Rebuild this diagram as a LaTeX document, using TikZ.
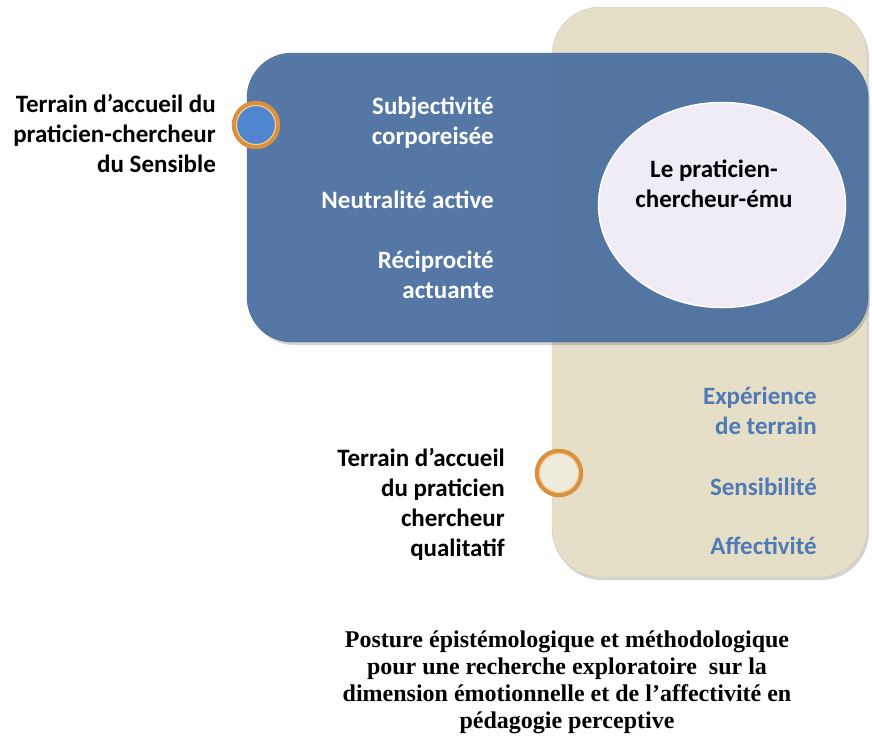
\documentclass[tikz,border=0pt]{standalone}
\usepackage{fontspec}
\setmainfont{Carlito}
\newfontfamily\capfont{Liberation Serif}
\usetikzlibrary{shadows,shapes.geometric}
\definecolor{beigeC}{HTML}{E5DFC8}
\definecolor{blueC}{HTML}{4B70A2}
\definecolor{ellC}{HTML}{EFECF6}
\definecolor{dotC}{HTML}{4F86CF}
\definecolor{ringC}{HTML}{D9913F}
\definecolor{ringL}{HTML}{F3C98E}
\definecolor{txtB}{HTML}{4F7AB5}
\tikzset{
  panel/.style={rounded corners=#1, drop shadow={shadow xshift=2pt,shadow yshift=-3pt,opacity=0.35}},
  basetxt/.style={font=\bfseries\fontsize{25}{30}\selectfont, align=right, anchor=east, inner sep=0pt},
  wtxt/.style={basetxt, text=white},
  btxt/.style={basetxt, text=txtB},
  ktxt/.style={basetxt, text=black},
  dot/.style={circle, minimum size=44pt, inner sep=0pt, line width=4.5pt, draw=ringC,
    drop shadow={shadow xshift=1pt,shadow yshift=-1.5pt,opacity=0.3}},
  dotin/.style={circle, minimum size=39pt, inner sep=0pt, line width=1.2pt, draw=ringL}
}
\begin{document}
\begin{tikzpicture}[x=1pt,y=-1pt]
\useasboundingbox (0,0) rectangle (872,740);
% beige panel
\path[panel=48pt, fill=beigeC, draw=beigeC!80!gray] (552,7) rectangle (867,577);
% blue panel
\path[panel=45pt, fill=blueC, fill opacity=0.93, draw=blueC!85!black] (247,53) rectangle (868,342);
% ellipse
\node[ellipse, draw=white, line width=1.5pt, fill=ellC, minimum width=247pt, minimum height=205pt, inner sep=0pt] (ell) at (722,205) {};
\node[font=\bfseries\fontsize{25}{30}\selectfont, align=center, inner sep=0pt] (elltxt) at (714,184) {Le praticien-\\chercheur-ému};
% dots
\node[dot, fill=dotC] (d1) at (256,125) {};
\node[dotin] (d1i) at (d1.center) {};
\node[dot, fill=beigeC!60!white] (d2) at (559,473) {};
\node[dotin] (d2i) at (d2.center) {};
% left labels
\node[ktxt] (l1) at (216,133) {Terrain d’accueil du\\praticien-chercheur\\du Sensible};
\node[ktxt] (l2) at (505,504) {Terrain d’accueil\\du praticien\\chercheur\\qualitatif};
% blue panel texts
\node[wtxt] (w1) at (494,123) {Subjectivité\\corporeisée};
\node[wtxt] (w2) at (494,200) {Neutralité active};
\node[wtxt] (w3) at (494,275) {Réciprocité\\actuante};
% beige texts
\node[btxt] (b1) at (817,411) {Expérience\\de terrain};
\node[btxt] (b2) at (817,487) {Sensibilité};
\node[btxt] (b3) at (817,546) {Affectivité};
% caption
\node[font=\capfont\bfseries\fontsize{24}{27}\selectfont, align=center, inner sep=0pt] (cap) at (567,682) {Posture épistémologique et méthodologique\\pour une recherche exploratoire~ sur la\\dimension émotionnelle et de l’affectivité en\\pédagogie perceptive};
\end{tikzpicture}
\end{document}
